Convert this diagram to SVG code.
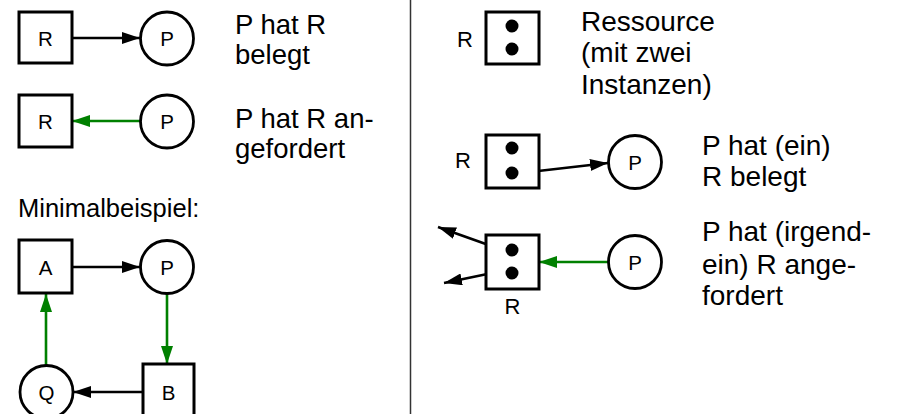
<svg xmlns="http://www.w3.org/2000/svg" width="897" height="414" viewBox="0 0 897 414">
<style>
.box{fill:#fff;stroke:#000;stroke-width:3}
.circ{fill:#fff;stroke:#000;stroke-width:2.8}
.lbl{font-family:"Liberation Sans",Arial,sans-serif;font-size:20.5px;fill:#000;text-anchor:middle}
.sl{font-family:"Liberation Sans",Arial,sans-serif;font-size:22px;fill:#000}
.txt{font-family:"Liberation Sans",Arial,sans-serif;font-size:28px;fill:#000}
.txl{font-family:"Liberation Sans",Arial,sans-serif;font-size:27.5px;fill:#000}
.blk{stroke:#000;stroke-width:2.6;fill:none}
.grn{stroke:#008000;stroke-width:2.6;fill:none}
.dot{fill:#000}
</style>
<defs>
<marker id="ab" viewBox="0 0 18 12" refX="18" refY="6" markerWidth="18" markerHeight="12" markerUnits="userSpaceOnUse" orient="auto">
<path d="M0,0 L18,6 L0,12 z" fill="#000"/>
</marker>
<marker id="ag" viewBox="0 0 18 12" refX="18" refY="6" markerWidth="18" markerHeight="12" markerUnits="userSpaceOnUse" orient="auto">
<path d="M0,0 L18,6 L0,12 z" fill="#008000"/>
</marker>
</defs>
<rect width="897" height="414" fill="#fff"/>
<line x1="410.5" y1="0" x2="410.5" y2="414" stroke="#333" stroke-width="1.5"/>
<g id="connectors">
<line class="blk" x1="72" y1="38" x2="140" y2="38" marker-end="url(#ab)"/>
<line class="grn" x1="140" y1="121" x2="72" y2="121" marker-end="url(#ag)"/>
<line class="blk" x1="72" y1="267" x2="140" y2="267" marker-end="url(#ab)"/>
<line class="grn" x1="167" y1="294" x2="167" y2="364" marker-end="url(#ag)"/>
<line class="blk" x1="143" y1="392" x2="73" y2="392" marker-end="url(#ab)"/>
<line class="grn" x1="46" y1="366" x2="46" y2="294" marker-end="url(#ag)"/>
<line class="blk" x1="512" y1="174" x2="608" y2="163" marker-end="url(#ab)"/>
<line class="grn" x1="608" y1="262" x2="539" y2="262" marker-end="url(#ag)"/>
<line class="blk" x1="497" y1="248" x2="438" y2="227" marker-end="url(#ab)"/>
<line class="blk" x1="497" y1="272" x2="444" y2="283" marker-end="url(#ab)"/>
</g>
<g id="n-r1"><rect class="box" x="19" y="12" width="53" height="51"/><text class="lbl" x="45.5" y="45.5">R</text></g>
<g id="n-p1"><circle class="circ" cx="167" cy="38.5" r="26.5"/><text class="lbl" x="167" y="46">P</text></g>
<g id="n-r2"><rect class="box" x="19" y="95" width="53" height="52"/><text class="lbl" x="45.5" y="128.5">R</text></g>
<g id="n-p2"><circle class="circ" cx="167" cy="121.5" r="26.5"/><text class="lbl" x="167" y="129">P</text></g>
<g id="n-a"><rect class="box" x="19" y="240" width="53" height="53"/><text class="lbl" x="45.5" y="274.5">A</text></g>
<g id="n-p3"><circle class="circ" cx="167" cy="267" r="26.5"/><text class="lbl" x="167" y="274.5">P</text></g>
<g id="n-b"><rect class="box" x="143" y="364" width="51" height="60"/><text class="lbl" x="168.5" y="399.5">B</text></g>
<g id="n-q"><circle class="circ" cx="46.5" cy="392" r="26.5"/><text class="lbl" x="46.5" y="399.5">Q</text></g>
<g id="n-res1"><rect class="box" x="486" y="12" width="53" height="52"/><circle class="dot" cx="512" cy="26" r="6.5"/><circle class="dot" cx="512" cy="49" r="6.5"/><text class="sl" x="457" y="47">R</text></g>
<g id="n-res2"><rect class="box" x="486" y="135" width="53" height="53"/><circle class="dot" cx="512" cy="148" r="6.5"/><circle class="dot" cx="512" cy="173" r="6.5"/><text class="sl" x="455" y="168">R</text></g>
<g id="n-p4"><circle class="circ" cx="635" cy="162" r="26.5"/><text class="lbl" x="635" y="169.5">P</text></g>
<g id="n-res3"><rect class="box" x="486" y="235" width="53" height="54"/><circle class="dot" cx="512" cy="250" r="6.5"/><circle class="dot" cx="512" cy="273" r="6.5"/><text class="sl" x="512.5" y="314" text-anchor="middle">R</text></g>
<g id="n-p5"><circle class="circ" cx="635" cy="262" r="26.5"/><text class="lbl" x="635" y="269.5">P</text></g>
<g id="texts">
<text class="txl" x="235" y="33.5">P hat R<tspan x="235" y="63.5">belegt</tspan></text>
<text class="txl" x="235" y="127.5">P hat R an-<tspan x="235" y="157.5">gefordert</tspan></text>
<text class="txt" x="18" y="217" style="font-size:25.5px">Minimalbeispiel:</text>
<text class="txt" x="581" y="31">Ressource<tspan x="581" y="62">(mit zwei</tspan><tspan x="581" y="94">Instanzen)</tspan></text>
<text class="txt" x="702" y="155">P hat (ein)<tspan x="702" y="186">R belegt</tspan></text>
<text class="txt" x="702" y="241">P hat (irgend-<tspan x="702" y="274">ein) R ange-</tspan><tspan x="702" y="305">fordert</tspan></text>
</g>
</svg>
